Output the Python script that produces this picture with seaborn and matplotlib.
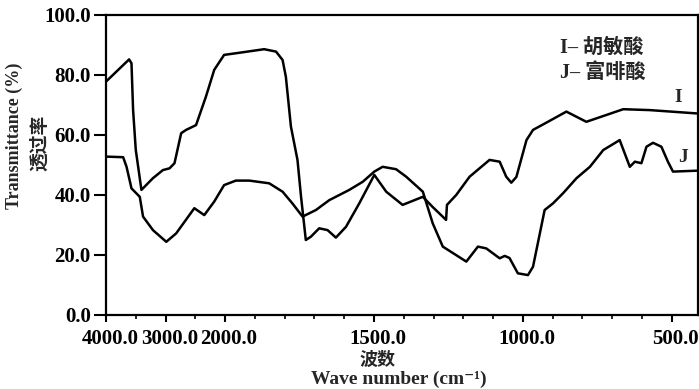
import numpy as np
import pandas as pd
import matplotlib
matplotlib.use("Agg")
import matplotlib.pyplot as plt
import matplotlib.transforms as mtransforms
import seaborn as sns
from matplotlib.ticker import FixedLocator, FuncFormatter

# ---- data ----
i_wavenumber = [4000, 3612, 3572, 3545, 3500, 3405, 3212, 3045, 2933, 2850, 2738, 2655,
                2488, 2322, 2183, 2017, 1953, 1869, 1829, 1807, 1796, 1779, 1757, 1745,
                1729, 1712, 1684, 1656, 1628, 1594, 1549, 1499, 1459, 1404, 1336, 1303,
                1258, 1255, 1224, 1179, 1112, 1078, 1056, 1039, 1022, 988, 966, 916,
                854, 787, 719, 663, 574, 417]
i_transmittance = [77.8, 85.2, 83.9, 68.3, 55.0, 41.7, 45.6, 48.3, 48.9, 50.6, 60.6, 61.7,
                   63.3, 72.8, 81.7, 86.7, 87.4, 88.6, 87.8, 85.0, 79.4, 62.8, 51.7, 39.4,
                   25.0, 26.1, 28.9, 28.3, 25.8, 29.4, 37.3, 46.7, 41.1, 36.7, 39.4, 36.0,
                   31.7, 36.7, 40.0, 46.1, 51.7, 51.1, 46.1, 44.1, 46.0, 58.3, 61.7, 64.4,
                   67.8, 64.4, 66.7, 68.6, 68.3, 67.2]
j_wavenumber = [4000, 3712, 3655, 3572, 3433, 3378, 3212, 2988, 2822, 2517, 2350, 2183,
                2017, 1964, 1919, 1852, 1807, 1774, 1740, 1695, 1650, 1583, 1538, 1499,
                1471, 1426, 1392, 1336, 1303, 1269, 1190, 1151, 1123, 1078, 1061, 1045,
                1017, 983, 966, 927, 899, 865, 820, 775, 730, 675, 641, 624, 602, 585,
                563, 535, 513, 496, 417]
j_transmittance = [52.8, 52.6, 49.4, 42.2, 39.4, 32.8, 28.3, 24.4, 27.2, 35.6, 33.3, 37.8,
                   43.3, 44.8, 44.8, 43.9, 41.1, 37.2, 32.8, 35.0, 38.3, 41.7, 44.4, 47.8,
                   49.4, 48.6, 46.1, 41.1, 30.6, 22.8, 17.8, 22.8, 22.2, 18.9, 19.7, 19.0,
                   13.9, 13.3, 16.1, 35.0, 37.2, 40.6, 45.6, 49.4, 55.0, 58.3, 49.4, 51.1,
                   50.6, 56.1, 57.4, 56.1, 51.1, 47.8, 48.1]
series_names = ["I", "J"]
legend_lines = ["I\u2013 胡敏酸", "J\u2013 富啡酸"]
x_major_ticks = [4000, 3000, 2000, 1500, 1000, 500]
x_minor_ticks = [3500, 2500, 1900, 1800, 1700, 1600, 1400, 1300, 1200, 1100,
                 900, 800, 700, 600]
y_ticks = [0, 20, 40, 60, 80, 100]

df = pd.concat([
    pd.DataFrame({"wavenumber": i_wavenumber, "transmittance": i_transmittance,
                  "series": series_names[0]}),
    pd.DataFrame({"wavenumber": j_wavenumber, "transmittance": j_transmittance,
                  "series": series_names[1]}),
], ignore_index=True)

sns.set_style("ticks")
plt.rcParams["font.family"] = ["Liberation Serif", "Noto Sans CJK SC", "DejaVu Serif"]
plt.rcParams["font.weight"] = "bold"
plt.rcParams["axes.linewidth"] = 1.6

W, H = 699, 389
fig = plt.figure(figsize=(W / 100, H / 100), dpi=100)
ax = fig.add_axes([106 / W, 1 - 315 / H, 592 / W, 300 / H])


def fwd(w):
    w = np.asarray(w, dtype=float)
    return np.where(w > 2000, 2000 + (w - 2000) / 5.0, w)


def inv(u):
    u = np.asarray(u, dtype=float)
    return np.where(u > 2000, 2000 + (u - 2000) * 5.0, u)


sns.lineplot(data=df, x="wavenumber", y="transmittance", hue="series",
             palette={"I": "black", "J": "black"}, estimator=None, sort=False,
             legend=False, linewidth=1.8, solid_joinstyle="round",
             solid_capstyle="round", ax=ax)

ax.set_xscale("function", functions=(fwd, inv))
ax.xaxis.set_major_locator(FixedLocator(x_major_ticks))
ax.xaxis.set_minor_locator(FixedLocator(x_minor_ticks))
ax.xaxis.set_major_formatter(FuncFormatter(lambda v, p: f"{v:.1f}"))
ax.set_xlim(4000, 412)
ax.set_ylim(0, 100)
ax.set_yticks(y_ticks)
ax.yaxis.set_major_formatter(FuncFormatter(lambda v, p: f"{v:.1f}"))

for s in ax.spines.values():
    s.set_color("black")
    s.set_linewidth(1.6)

ax.tick_params(axis="x", which="major", direction="out", length=5, width=1.5,
               pad=5, labelsize=15, colors="black")
ax.tick_params(axis="x", which="minor", direction="out", length=3, width=1.2,
               colors="black")
ax.tick_params(axis="y", which="major", direction="out", length=9, width=1.5,
               pad=2, labelsize=15, colors="black")
for lab in ax.get_xticklabels() + ax.get_yticklabels():
    lab.set_fontweight("bold")

# reference tick labels sit a few pixels right of their ticks
shift = mtransforms.ScaledTranslation(4 / 100, 0, fig.dpi_scale_trans)
for tick in ax.xaxis.get_major_ticks():
    tick.label1.set_transform(tick.label1.get_transform() + shift)

ax.set_xlabel("")
ax.set_ylabel("")

# axis titles
fig.text(377 / W, 1 - 360 / H, "波数", ha="center", va="center",
         fontsize=13, fontweight="bold")
fig.text(399 / W, 1 - 379 / H, "Wave number (cm\u207b\u00b9)", ha="center",
         va="center", fontsize=14, fontweight="bold")
fig.text(14 / W, 1 - 136 / H, "Transmittance (%)", ha="center", va="center",
         rotation=90, fontsize=13, fontweight="bold")
fig.text(40 / W, 1 - 143 / H, "透过率", ha="center", va="center",
         rotation=90, fontsize=13.5, fontweight="bold")

# legend-like annotation
ax.text((560 - 106) / 592, (315 - 48) / 300, legend_lines[0], transform=ax.transAxes,
        ha="left", va="center", fontsize=14.5, fontweight="bold")
ax.text((560 - 106) / 592, (315 - 73) / 300, legend_lines[1], transform=ax.transAxes,
        ha="left", va="center", fontsize=14.5, fontweight="bold")

# curve labels
ax.text((678 - 106) / 592, (315 - 98) / 300, series_names[0], transform=ax.transAxes,
        ha="center", va="center", fontsize=14, fontweight="bold")
ax.text((683 - 106) / 592, (315 - 157) / 300, series_names[1], transform=ax.transAxes,
        ha="center", va="center", fontsize=14, fontweight="bold")

fig.savefig("out.png", dpi=100)
